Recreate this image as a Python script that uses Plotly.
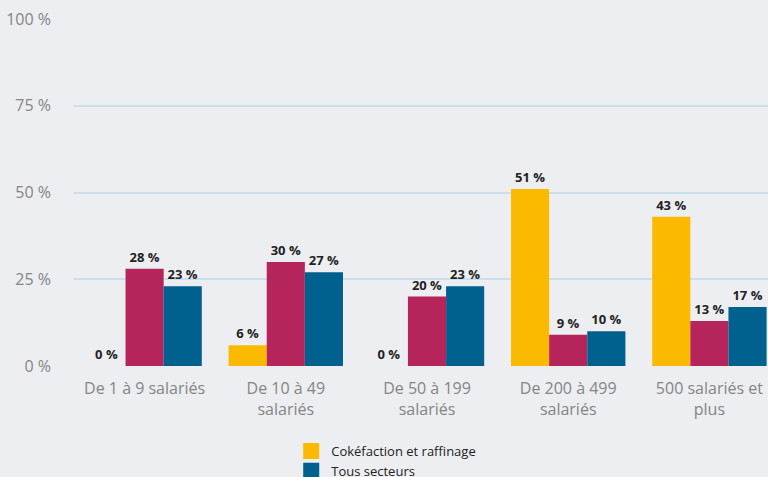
import plotly.graph_objects as go

categories = ["De 1 à 9 salariés", "De 10 à 49<br>salariés", "De 50 à 199<br>salariés",
              "De 200 à 499<br>salariés", "500 salariés et<br>plus"]
coke = [0, 6, 0, 51, 43]
industrie = [28, 30, 20, 9, 13]
tous = [23, 27, 23, 10, 17]
y_ticks = [0, 25, 50, 75, 100]
y_tick_labels = ["0 %", "25 %", "50 %", "75 %", "100 %"]

series = [
    ("Cokéfaction et raffinage", coke, "#FBB900", 1),
    ("Industrie manufacturière", industrie, "#B5245B", 3),
    ("Tous secteurs", tous, "#00618F", 2),
]

fig = go.Figure()
for name, vals, color, rank in series:
    fig.add_trace(go.Bar(
        x=list(range(len(categories))), y=vals, name=name,
        marker=dict(color=color, line=dict(width=0)),
        text=[f"{v} %" for v in vals], textposition="outside",
        textfont=dict(family="Open Sans", size=13, color="#222222", weight="bold"),
        cliponaxis=False, showlegend=False, legendgroup=name,
    ))
    # legend entry with a larger square swatch
    fig.add_trace(go.Scatter(
        x=[None], y=[None], mode="markers", name=name, legendgroup=name,
        marker=dict(symbol="square", size=18, color=color),
        legendrank=rank, showlegend=True,
    ))

H = 520
fig.update_layout(
    width=768, height=H,
    paper_bgcolor="#ECEEF1", plot_bgcolor="#ECEEF1",
    margin=dict(l=74, r=0, t=19, b=H - 366),
    barmode="group", bargap=0.19, bargroupgap=0,
    font=dict(family="Open Sans", color="#7f7f7f"),
    showlegend=True,
    legend=dict(orientation="v", x=0.313, xanchor="left", y=-0.2017, yanchor="top",
                font=dict(size=13, color="#222222"), bgcolor="rgba(0,0,0,0)",
                tracegroupgap=0),
    xaxis=dict(tickmode="array", tickvals=list(range(len(categories))), ticktext=categories,
               range=[-0.5, 4.415], showgrid=False, zeroline=False, showline=False,
               ticklabelstandoff=11,
               tickfont=dict(size=16, color="#858585")),
    yaxis=dict(range=[0, 100], tickmode="array", tickvals=y_ticks, ticktext=y_tick_labels,
               showgrid=True, gridcolor="#C9E0EA", gridwidth=2, zeroline=False,
               showline=False, ticklabelstandoff=22,
               tickfont=dict(size=16, color="#858585")),
)

fig.write_html("out.html",
               config={"displayModeBar": False},
               post_script="document.body.style.margin='0';document.body.style.overflow='hidden';"
                           "document.documentElement.style.overflow='hidden';")
